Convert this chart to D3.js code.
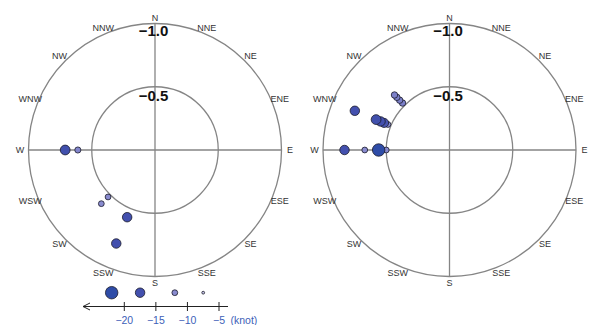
<!DOCTYPE html>
<html>
<head>
<meta charset="utf-8">
<script src="https://cdn.jsdelivr.net/npm/d3@7"></script>
<style>
  html, body { margin: 0; padding: 0; background: #fff; }
  svg { display: block; }
</style>
</head>
<body>
<svg id="chart" width="594" height="325"></svg>
<script>
// 16-point compass directions, clockwise from north
const directions = ["N","NNE","NE","ENE","E","ESE","SE","SSE","S","SSW","SW","WSW","W","WNW","NW","NNW"];

// Radial grid rings and their labels
const ringValues = [-1.0, -0.5];
const ringLabels = ["\u22121.0", "\u22120.5"];

// Left panel: direction, radial value, speed (knot)
const leftDir   = ["W", "W", "SW", "SW", "SSW", "SSW"];
const leftValue = [-0.71, -0.61, -0.525, -0.60, -0.575, -0.80];
const leftKnot  = [-18, -12.5, -12, -12, -17.5, -17.5];

// Right panel: direction, radial value, speed (knot)
const rightDir   = ["W", "W", "W", "W", "WNW", "WNW", "WNW", "WNW", "WNW", "NW", "NW", "NW", "NW"];
const rightValue = [-0.50, -0.56, -0.67, -0.83, -0.81, -0.527, -0.56, -0.59, -0.628, -0.525, -0.557, -0.589, -0.615];
const rightKnot  = [-12, -22, -12, -17.5, -17.5, -12, -17, -17.5, -18, -13, -13, -13, -13];

// Speed legend
const legendKnots = [-22, -17.5, -12, -7.5];
const legendTicks = [-20, -15, -10, -5];
const legendUnit = "(knot)";

const svg = d3.select("#chart");
const R = 126.5;
const cy = 150;
const panels = [
  { cx: 155,   dir: leftDir,  value: leftValue,  knot: leftKnot },
  { cx: 449.5, dir: rightDir, value: rightValue, knot: rightKnot }
];

const rScale = d3.scaleLinear().domain([0, -1]).range([0, R]);
const sizeScale = d3.scaleLinear().domain([-22.5, -7.5]).range([6.4, 1.4]);
const colorScale = d3.scaleLinear()
  .domain([-22.5, -17.5, -12.5, -7.5])
  .range(["#2c4ca6", "#4350ae", "#8285cc", "#c4c4e8"])
  .clamp(true);
const angle = d => directions.indexOf(d) * Math.PI / 8;

panels.forEach(p => {
  const g = svg.append("g").attr("transform", `translate(${p.cx},${cy})`);

  // rings
  g.selectAll("circle.ring").data(ringValues).join("circle")
    .attr("class", "ring")
    .attr("r", d => rScale(d))
    .attr("fill", "none")
    .attr("stroke", "#858585")
    .attr("stroke-width", 1.3);

  // N-S and W-E axes
  g.append("line").attr("x1", 0).attr("x2", 0).attr("y1", -R).attr("y2", R)
    .attr("stroke", "#858585").attr("stroke-width", 1.3);
  g.append("line").attr("x1", -R).attr("x2", R).attr("y1", 0).attr("y2", 0)
    .attr("stroke", "#858585").attr("stroke-width", 1.3);

  // compass labels
  g.selectAll("text.dir").data(directions).join("text")
    .attr("class", "dir")
    .attr("x", d => (R + 8.5) * Math.sin(angle(d)))
    .attr("y", d => -(R + 6) * Math.cos(angle(d)))
    .attr("dy", "0.35em")
    .attr("text-anchor", "middle")
    .attr("font-family", "Liberation Sans, Arial, sans-serif")
    .attr("font-size", 9)
    .attr("fill", "#333")
    .text(d => d);

  // ring labels
  const ringOffsets = [12, 14];
  g.selectAll("text.ringlab").data(ringValues).join("text")
    .attr("class", "ringlab")
    .attr("x", -1.5)
    .attr("y", (d, i) => -rScale(d) + ringOffsets[i])
    .attr("text-anchor", "middle")
    .attr("font-family", "Liberation Sans, Arial, sans-serif")
    .attr("font-size", 15)
    .attr("font-weight", "bold")
    .attr("fill", "#111")
    .text((d, i) => ringLabels[i]);

  // points
  const pts = p.dir.map((d, i) => ({ dir: d, v: p.value[i], k: p.knot[i] }));
  g.selectAll("circle.pt").data(pts).join("circle")
    .attr("class", "pt")
    .attr("cx", d => rScale(d.v) * Math.sin(angle(d.dir)))
    .attr("cy", d => -rScale(d.v) * Math.cos(angle(d.dir)))
    .attr("r", d => sizeScale(d.k))
    .attr("fill", d => colorScale(d.k))
    .attr("stroke", "#1a1a2a")
    .attr("stroke-width", 0.8);
});

// speed legend
const lx = d3.scaleLinear().domain([-20, -5]).range([124.3, 219]);
const ly = 306.5;
const lg = svg.append("g");
lg.append("line")
  .attr("x1", 83).attr("x2", 228).attr("y1", ly).attr("y2", ly)
  .attr("stroke", "#222").attr("stroke-width", 1);
lg.append("path")
  .attr("d", `M90,${ly - 3.5}L83,${ly}L90,${ly + 3.5}`)
  .attr("fill", "none").attr("stroke", "#222").attr("stroke-width", 1);
lg.selectAll("line.tick").data(legendTicks).join("line")
  .attr("class", "tick")
  .attr("x1", d => lx(d)).attr("x2", d => lx(d))
  .attr("y1", ly - 4.5).attr("y2", ly + 4.5)
  .attr("stroke", "#222").attr("stroke-width", 1);
lg.selectAll("text.tick").data(legendTicks).join("text")
  .attr("class", "tick")
  .attr("x", d => lx(d)).attr("y", 324)
  .attr("text-anchor", "middle")
  .attr("font-family", "Liberation Sans, Arial, sans-serif")
  .attr("font-size", 10.5)
  .attr("fill", "#3d5fb8")
  .text(d => "\u2212" + Math.abs(d));
lg.append("text")
  .attr("x", 230.5).attr("y", 324)
  .attr("font-family", "Liberation Sans, Arial, sans-serif")
  .attr("font-size", 10.5)
  .attr("fill", "#3d5fb8")
  .text(legendUnit);
lg.selectAll("circle.key").data(legendKnots).join("circle")
  .attr("class", "key")
  .attr("cx", d => lx(d)).attr("cy", 292.7)
  .attr("r", d => sizeScale(d))
  .attr("fill", d => colorScale(d))
  .attr("stroke", "#1a1a2a")
  .attr("stroke-width", 0.8);
</script>
</body>
</html>
